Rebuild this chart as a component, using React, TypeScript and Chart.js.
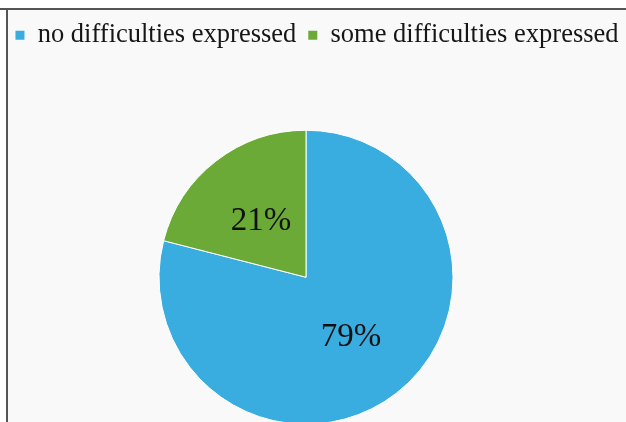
import React, { useEffect, useRef } from 'react';
import { Chart, registerables } from 'chart.js';

Chart.register(...registerables);

const categories = ['no difficulties expressed', 'some difficulties expressed'];
const shares = [79, 21];
const sliceColors = ['#39ACE0', '#6BAA36'];

const CANVAS_W = 660;
const CANVAS_H = 496;
const CANVAS_LEFT = -13;

const sliceLabels = {
  id: 'sliceLabels',
  afterDatasetsDraw(chart: any) {
    const ctx = chart.ctx;
    const meta = chart.getDatasetMeta(0);
    const values = chart.data.datasets[0].data as number[];
    ctx.save();
    ctx.font = '33px "Liberation Serif", "Times New Roman", serif';
    ctx.fillStyle = '#111111';
    ctx.textAlign = 'center';
    ctx.textBaseline = 'middle';
    meta.data.forEach((arc: any, i: number) => {
      const p = arc.getCenterPoint();
      ctx.fillText(`${values[i]}%`, p.x, p.y + 2);
    });
    ctx.restore();
  },
};

export default function App() {
  const ref = useRef<HTMLCanvasElement>(null);
  useEffect(() => {
    const chart = new Chart(ref.current as HTMLCanvasElement, {
      type: 'pie',
      data: {
        labels: categories,
        datasets: [
          {
            data: shares,
            backgroundColor: sliceColors,
            borderColor: '#ffffff',
            borderWidth: 1,
            radius: 147,
          } as any,
        ],
      },
      options: {
        responsive: false,
        animation: false,
        devicePixelRatio: 1,
        layout: { padding: { top: 10, left: 0, right: 0, bottom: 0 } },
        plugins: {
          legend: {
            position: 'top',
            align: 'center',
            labels: {
              boxWidth: 9,
              boxHeight: 9,
              padding: 12,
              color: '#161616',
              font: { family: '"Liberation Serif", "Times New Roman", serif', size: 26.5 },
              generateLabels: (c: any) =>
                (Chart as any).overrides.pie.plugins.legend.labels
                  .generateLabels(c)
                  .map((l: any) => ({ ...l, lineWidth: 0, strokeStyle: l.fillStyle })),
            },
          },
          title: {
            display: true,
            position: 'right',
            text: ' ',
            padding: 5,
            font: { size: 10 },
          },
          tooltip: { enabled: false },
        },
      } as any,
      plugins: [sliceLabels],
    });
    return () => chart.destroy();
  }, []);

  return (
    <div
      style={{
        position: 'fixed',
        left: 0,
        top: 0,
        width: 626,
        height: 422,
        overflow: 'hidden',
        background: '#ffffff',
      }}
    >
      <div style={{ position: 'absolute', left: 8, top: 10, right: 0, bottom: 0, background: '#f9f9f9' }} />
      <div style={{ position: 'absolute', left: 0, top: 8, width: 626, height: 2, background: '#555555' }} />
      <div style={{ position: 'absolute', left: 6, top: 8, width: 2, height: 414, background: '#555555' }} />
      <canvas
        ref={ref}
        width={CANVAS_W}
        height={CANVAS_H}
        style={{ position: 'absolute', left: CANVAS_LEFT, top: 0, width: CANVAS_W, height: CANVAS_H }}
      />
    </div>
  );
}
